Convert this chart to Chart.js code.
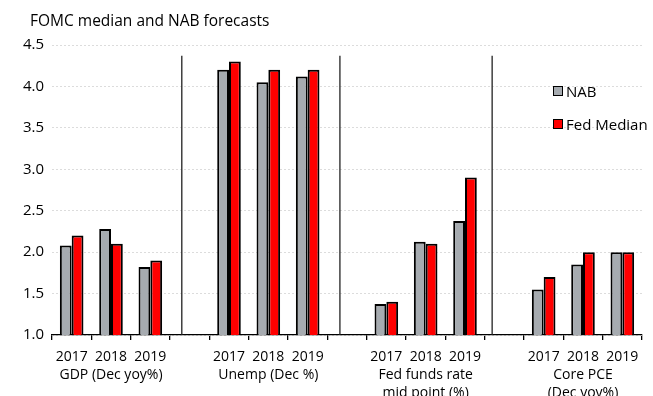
<!DOCTYPE html>
<html>
<head>
<meta charset="utf-8">
<script src="https://cdn.jsdelivr.net/npm/chart.js@4"></script>
<style>
  body { margin: 0; background: #fff; }
  #wrap { position: relative; width: 653px; height: 396px; }
  #titulo { position: absolute; left: 30px; top: 9px; font: 15.5px "Open Sans", sans-serif; color: #000; white-space: nowrap; }
  #legend { position: absolute; left: 553px; top: 82px; font: 15px "Open Sans", sans-serif; color: #000; }
  #legend div { display: flex; align-items: center; height: 18px; margin-bottom: 15px; }
  #legend span.box { width: 8px; height: 8px; border: 1.5px solid #000; margin-right: 3px; }
</style>
</head>
<body>
<div id="wrap">
  <canvas id="grafica" width="653" height="396"></canvas>
  <div id="titulo">FOMC median and NAB forecasts</div>
  <div id="legend">
    <div><span class="box" style="background:#a6abb0"></span>NAB</div>
    <div><span class="box" style="background:#ff0000"></span>Fed Median</div>
  </div>
</div>
<script>
// Categorías (con huecos entre grupos)
const etiquetas = [
  ["2017", ""], ["2018", "GDP (Dec yoy%)"], ["2019", ""], "",
  ["2017", ""], ["2018", "Unemp (Dec %)"], ["2019", ""], "",
  ["2017", "", ""], ["2018", "Fed funds rate", "mid point (%)"], ["2019", "", ""], "",
  ["2017", "", ""], ["2018", "Core PCE", "(Dec yoy%)"], ["2019", "", ""]
];

// Series
const nab = [2.08, 2.28, 1.82, null, 4.2, 4.05, 4.12, null, 1.375, 2.125, 2.375, null, 1.55, 1.85, 2.0];
const fedMedian = [2.2, 2.1, 1.9, null, 4.3, 4.2, 4.2, null, 1.4, 2.1, 2.9, null, 1.7, 2.0, 2.0];

// Eje Y
const yTicks = [1.0, 1.5, 2.0, 2.5, 3.0, 3.5, 4.0, 4.5];

// Separadores entre grupos (posicion en indice de categoria)
const separadores = [2.8, 6.82, 10.69];
const separadorTope = 4.37;

const FUENTE = '"Open Sans", sans-serif';

const separadorPlugin = {
  id: "separadores",
  afterDatasetsDraw(chart) {
    const { ctx, scales: { x, y } } = chart;
    const ancho = x.getPixelForValue(1) - x.getPixelForValue(0);
    ctx.save();
    ctx.strokeStyle = "#222";
    ctx.lineWidth = 1.3;
    separadores.forEach((pos) => {
      const i = Math.floor(pos);
      const px = x.getPixelForValue(i) + (pos - i) * ancho;
      ctx.beginPath();
      ctx.moveTo(px, y.getPixelForValue(separadorTope));
      ctx.lineTo(px, y.getPixelForValue(yTicks[0]));
      ctx.stroke();
    });
    ctx.restore();
  }
};

new Chart(document.getElementById("grafica"), {
  type: "bar",
  data: {
    labels: etiquetas,
    datasets: [
      {
        label: "NAB",
        data: nab,
        backgroundColor: "#a6abb0",
        borderColor: "#000",
        borderWidth: 2,
        categoryPercentage: 0.6,
        barPercentage: 1.0
      },
      {
        label: "Fed Median",
        data: fedMedian,
        backgroundColor: "#ff0000",
        borderColor: "#000",
        borderWidth: 2,
        categoryPercentage: 0.6,
        barPercentage: 1.0
      }
    ]
  },
  options: {
    responsive: false,
    animation: false,
    skipNull: true,
    layout: { padding: { left: 6, right: 11, top: 45, bottom: 0 } },
    plugins: {
      legend: { display: false },
      tooltip: { enabled: false }
    },
    scales: {
      x: {
        grid: { offset: true, drawOnChartArea: false, drawTicks: true, tickLength: 5, color: "#000", lineWidth: 1.3 },
        border: { color: "#000", width: 1.3 },
        ticks: {
          color: "#000",
          autoSkip: false,
          maxRotation: 0,
          padding: 8,
          font: { family: FUENTE, size: 14, lineHeight: 1.3 }
        },
        afterFit: (scale) => { scale.height = 61; }
      },
      y: {
        min: 1.0,
        max: 4.5,
        afterBuildTicks: (scale) => { scale.ticks = yTicks.map((v) => ({ value: v })); },
        afterFit: (scale) => { scale.width = 46; },
        grid: { color: "#dcdcdc", drawTicks: false, lineWidth: 1 },
        border: { display: false, dash: [2, 2] },
        ticks: {
          color: "#000",
          padding: 8,
          font: { family: FUENTE, size: 15 },
          callback: (v) => Number(v).toFixed(1)
        }
      }
    }
  },
  plugins: [separadorPlugin]
});
</script>
</body>
</html>
